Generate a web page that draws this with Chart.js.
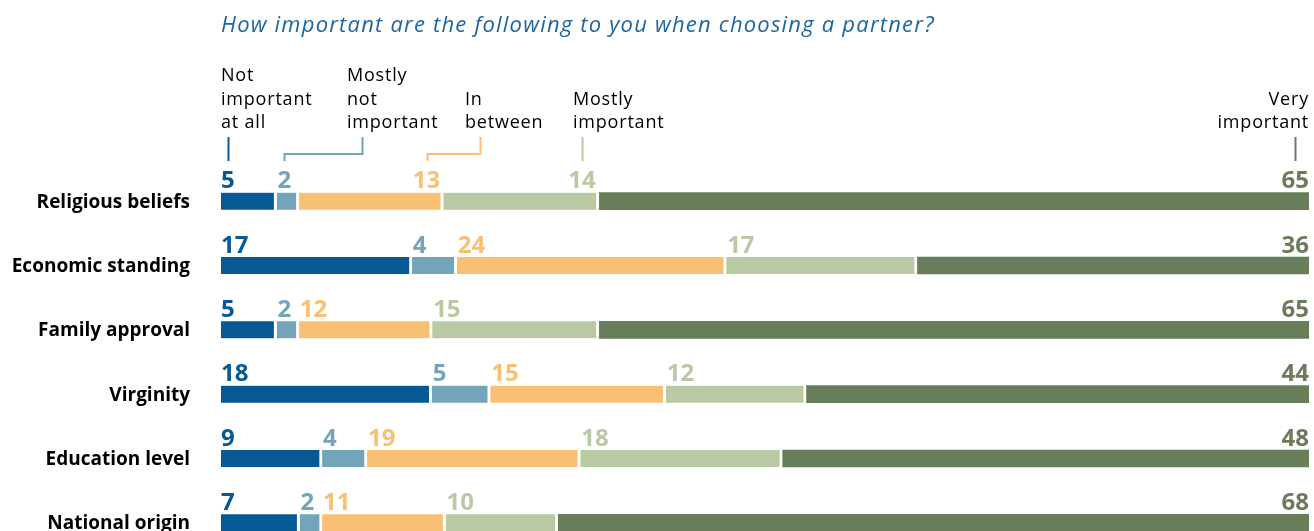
<!DOCTYPE html>
<html lang="en">
<head>
    <meta charset="UTF-8">
    <title>Choosing a partner</title>
    <script src="https://cdn.jsdelivr.net/npm/chart.js"></script>
    <style>
        html, body {
            margin: 0;
            padding: 0;
            background: #ffffff;
            overflow: hidden;
        }
        canvas {
            display: block;
        }
    </style>
</head>
<body>
    <canvas id="partnerChart" width="1314" height="560"></canvas>

    <script>
        // data
        const categories = ["Religious beliefs", "Economic standing", "Family approval", "Virginity", "Education level", "National origin"];
        const notImportant = [5, 17, 5, 18, 9, 7];
        const mostlyNotImportant = [2, 4, 2, 5, 4, 2];
        const inBetween = [13, 24, 12, 15, 19, 11];
        const mostlyImportant = [14, 17, 15, 12, 18, 10];
        const veryImportant = [65, 36, 65, 44, 48, 68];
        const seriesNames = [
            ["Not", "important", "at all"],
            ["Mostly", "not", "important"],
            ["In", "between"],
            ["Mostly", "important"],
            ["Very", "important"]
        ];

        const allSeries = [notImportant, mostlyNotImportant, inBetween, mostlyImportant, veryImportant];
        const colors = ["#055a96", "#72a5ba", "#f9c073", "#b9c9a1", "#687e5a"];
        const titleText = "How important are the following to you when choosing a partner?";
        const fontFamily = "'Open Sans', 'Noto Sans', sans-serif";
        const gap = 3;

        // each row is drawn as its share of the row total, so every bar fills the width
        const totals = categories.map((c, i) => allSeries.reduce((s, arr) => s + arr[i], 0));

        const datasets = allSeries.map((arr, k) => ({
            label: seriesNames[k].join(" "),
            data: arr.map((v, i) => v / totals[i] * 100),
            raw: arr,
            backgroundColor: colors[k],
            borderColor: "#ffffff",
            borderWidth: k < allSeries.length - 1 ? { top: 0, right: gap, bottom: 0, left: 0 } : 0,
            borderSkipped: false,
            barThickness: 17,
            clip: 0
        }));

        // first row labels sit under the legend connectors, so they hug the right end
        function labelAlign(row, k) {
            if (k === allSeries.length - 1) return "right";
            if (row === 0 && (k === 2 || k === 3)) return "right";
            return "left";
        }

        const textPlugin = {
            id: "textPlugin",
            afterDraw(chart) {
                const ctx = chart.ctx;
                const area = chart.chartArea;
                const yScale = chart.scales.y;
                ctx.save();

                // title
                ctx.fillStyle = "#1e65a2";
                ctx.font = "italic 22px " + fontFamily;
                ctx.letterSpacing = "1.2px";
                ctx.textAlign = "left";
                ctx.textBaseline = "alphabetic";
                ctx.fillText(titleText, area.left, 32);
                ctx.letterSpacing = "0px";

                // category labels
                ctx.fillStyle = "#000000";
                ctx.font = "bold 19px " + fontFamily;
                ctx.textAlign = "right";
                ctx.textBaseline = "middle";
                categories.forEach((c, i) => {
                    ctx.fillText(c, 190, yScale.getPixelForValue(i) + 1);
                });

                // value labels
                ctx.font = "bold 24px " + fontFamily;
                ctx.textBaseline = "alphabetic";
                const labelCenters = [];
                chart.data.datasets.forEach((ds, k) => {
                    const meta = chart.getDatasetMeta(k);
                    const last = k === allSeries.length - 1;
                    meta.data.forEach((bar, i) => {
                        const left = bar.base + (k > 0 ? 1 : 0);
                        const right = last ? area.right : bar.x - gap;
                        const align = labelAlign(i, k);
                        const txt = String(ds.raw[i]);
                        const w = ctx.measureText(txt).width;
                        const x = align === "left" ? left : right;
                        ctx.fillStyle = colors[k];
                        ctx.textAlign = align;
                        ctx.fillText(txt, x, bar.y - 13);
                        if (i === 0) {
                            labelCenters[k] = align === "left" ? x + w / 2 : x - w / 2;
                        }
                    });
                });

                // legend text, bottom aligned
                const legendX = [area.left, 347, 465, 573, area.right];
                ctx.font = "18px " + fontFamily;
                ctx.letterSpacing = "0.8px";
                ctx.fillStyle = "#000000";
                seriesNames.forEach((lines, k) => {
                    ctx.textAlign = k === seriesNames.length - 1 ? "right" : "left";
                    lines.forEach((line, j) => {
                        const baseline = 128 - (lines.length - 1 - j) * 23.5;
                        ctx.fillText(line, legendX[k], baseline);
                    });
                });
                ctx.letterSpacing = "0px";

                // legend connectors down to the first row labels
                const top = 137, mid = 154, bottom = 161;
                ctx.lineWidth = 2;
                labelCenters.forEach((cx, k) => {
                    const stub = Math.round(cx) + 0.5;
                    ctx.strokeStyle = colors[k];
                    ctx.beginPath();
                    if (k === 1 || k === 2) {
                        const textX = k === 1 ? 362.5 : 480.5;
                        ctx.moveTo(textX, top);
                        ctx.lineTo(textX, mid);
                        ctx.lineTo(stub, mid);
                        ctx.lineTo(stub, bottom);
                    } else {
                        ctx.moveTo(stub, top);
                        ctx.lineTo(stub, bottom);
                    }
                    ctx.stroke();
                });

                ctx.restore();
            }
        };

        new Chart(document.getElementById("partnerChart"), {
            type: "bar",
            data: {
                labels: categories,
                datasets: datasets
            },
            options: {
                indexAxis: "y",
                responsive: false,
                animation: false,
                layout: {
                    padding: { left: 221, right: 5, top: 169, bottom: 5 }
                },
                scales: {
                    // a touch under 100: the gaps between segments are added on top of the shares
                    x: { stacked: true, min: 0, max: 98.9, display: false },
                    y: { stacked: true, display: false }
                },
                plugins: {
                    legend: { display: false },
                    tooltip: { enabled: false }
                }
            },
            plugins: [textPlugin]
        });
    </script>
</body>
</html>
